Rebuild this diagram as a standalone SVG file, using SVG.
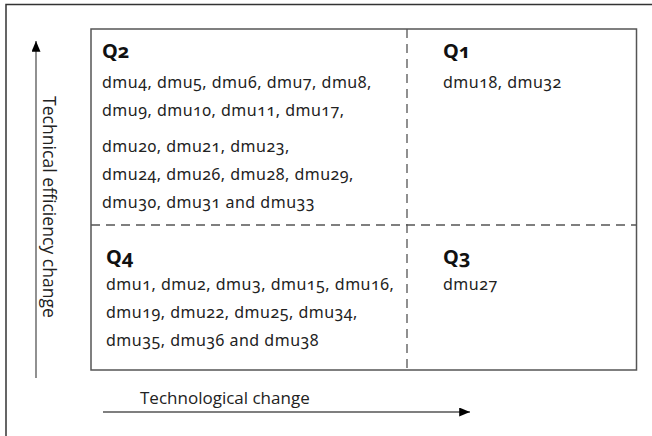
<svg xmlns="http://www.w3.org/2000/svg" width="652" height="436" viewBox="0 0 652 436">
  <defs>
    <marker id="arrow" viewBox="0 0 12 10" refX="12" refY="5" markerWidth="12" markerHeight="9" markerUnits="userSpaceOnUse" orient="auto">
      <path d="M0,0 L12,5 L0,10 Z" fill="#000"/>
    </marker>
    <style>
      .frame { fill: none; stroke: #333; stroke-width: 1.5; }
      .box { fill: #fff; stroke: #555; stroke-width: 1.5; }
      .dash { fill: none; stroke: #555; stroke-width: 1.3; stroke-dasharray: 9 6; }
      .axis { fill: none; stroke: #555; stroke-width: 1.3; }
      .q { font-family: "Noto Sans", "Liberation Sans", sans-serif; font-size: 20px; font-weight: bold; fill: #111; font-variant-numeric: oldstyle-nums; }
      .t { font-family: "Noto Sans", "Liberation Sans", sans-serif; font-size: 16px; letter-spacing: 0.5px; fill: #222; font-variant-numeric: oldstyle-nums; }
      .ax { font-family: "Open Sans", "Liberation Sans", sans-serif; font-size: 17px; fill: #222; }
    </style>
  </defs>

  <rect width="652" height="436" fill="#fff"/>
  <!-- outer frame: top and left edges only -->
  <path class="frame" d="M6,436 V4.5 H652"/>

  <!-- quadrant box with dashed dividers -->
  <g id="quadrant-box">
    <rect class="box" x="91" y="29" width="545.5" height="341"/>
    <line class="dash" x1="407" y1="29" x2="407" y2="370"/>
    <line class="dash" x1="91" y1="225" x2="636.5" y2="225"/>
  </g>

  <g id="q2">
    <text class="q" x="102" y="58">Q2</text>
    <text class="t" x="102" y="88">dmu4, dmu5, dmu6, dmu7, dmu8,</text>
    <text class="t" x="102" y="116">dmu9, dmu10, dmu11, dmu17,</text>
    <text class="t" x="102" y="152">dmu20, dmu21, dmu23,</text>
    <text class="t" x="102" y="180">dmu24, dmu26, dmu28, dmu29,</text>
    <text class="t" x="102" y="208">dmu30, dmu31 and dmu33</text>
  </g>

  <g id="q1">
    <text class="q" x="443" y="58">Q1</text>
    <text class="t" x="443" y="88">dmu18, dmu32</text>
  </g>

  <g id="q4">
    <text class="q" x="106" y="264">Q4</text>
    <text class="t" x="106" y="290">dmu1, dmu2, dmu3, dmu15, dmu16,</text>
    <text class="t" x="106" y="318">dmu19, dmu22, dmu25, dmu34,</text>
    <text class="t" x="106" y="346">dmu35, dmu36 and dmu38</text>
  </g>

  <g id="q3">
    <text class="q" x="443" y="264">Q3</text>
    <text class="t" x="443" y="290">dmu27</text>
  </g>

  <!-- axes -->
  <g id="connectors">
    <line class="axis" x1="36" y1="378" x2="36" y2="41" marker-end="url(#arrow)"/>
    <line class="axis" x1="103" y1="412" x2="470" y2="412" marker-end="url(#arrow)"/>
  </g>

  <g id="y-label">
    <text class="ax" transform="translate(43,207) rotate(90)" text-anchor="middle" style="font-size:17.6px">Technical efficiency change</text>
  </g>
  <g id="x-label">
    <text class="ax" x="140" y="404">Technological change</text>
  </g>
</svg>
